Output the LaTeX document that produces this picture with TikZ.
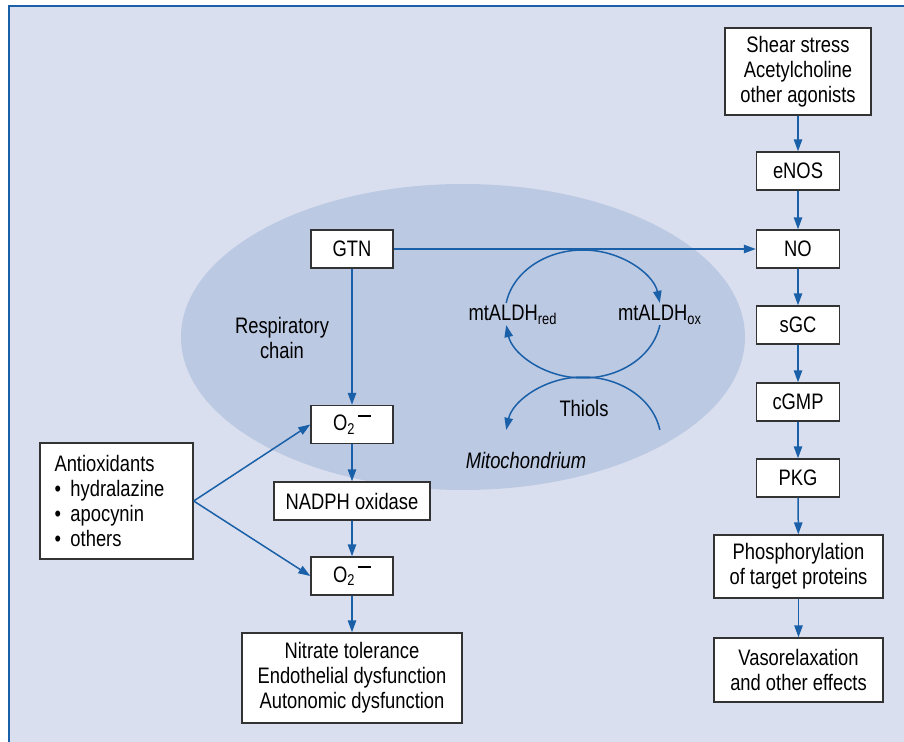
\documentclass[tikz,border=0pt]{standalone}
\usepackage{fontspec}
\setmainfont[FakeStretch=0.82]{Liberation Sans}
\usetikzlibrary{arrows.meta}
\definecolor{bgfill}{HTML}{D9DFEE}
\definecolor{mitofill}{HTML}{BCC9E3}
\definecolor{lineblue}{HTML}{1A60A8}
\definecolor{boxgray}{HTML}{333333}
\newcommand\supox{O\textsubscript{2}\kern0.1em\raisebox{0.63em}{\rule{0.58em}{0.1em}}}
\begin{document}
\begin{tikzpicture}[x=0.5pt,y=-0.5pt,
  font=\fontsize{11.2}{12.5}\selectfont,
  box/.style={draw=boxgray, fill=white, line width=0.7pt, inner sep=0pt, align=center},
  arr/.style={draw=lineblue, line width=0.75pt, -{Triangle[length=6pt,width=4.2pt]}},
  plain/.style={draw=lineblue, line width=0.75pt}]
\useasboundingbox (0,0) rectangle (904,742);
% background and frame
\fill[bgfill] (9,6) rectangle (904,742);
\draw[lineblue, line width=1pt] (9,742) -- (9,6) -- (904,6);
% mitochondrium
\fill[mitofill] (463,337) ellipse [x radius=282, y radius=153];

% right column
\node[box, minimum width=73pt, minimum height=43.5pt] (shear) at (798,71.5) {Shear stress\\Acetylcholine\\other agonists};
\node[box, minimum width=41.5pt, minimum height=19pt] (enos) at (798,171) {eNOS};
\node[box, minimum width=41.5pt, minimum height=19pt] (no) at (798,249) {NO};
\node[box, minimum width=41.5pt, minimum height=19pt] (sgc) at (798,325) {sGC};
\node[box, minimum width=41.5pt, minimum height=19pt] (cgmp) at (798,402) {cGMP};
\node[box, minimum width=41.5pt, minimum height=19pt] (pkg) at (798,478) {PKG};
\node[box, minimum width=84.5pt, minimum height=31.5pt] (phos) at (798.5,566.5) {Phosphorylation\\of target proteins};
\node[box, minimum width=84.5pt, minimum height=32pt] (vaso) at (798.5,670) {Vasorelaxation\\and other effects};

% left column
\node[box, minimum width=41pt, minimum height=19pt] (gtn) at (352,249) {GTN};
\node[box, minimum width=41pt, minimum height=19pt] (oxa) at (352,424.5) {\supox};
\node[box, minimum width=78pt, minimum height=19pt] (nadph) at (352,501) {NADPH oxidase};
\node[box, minimum width=41pt, minimum height=19pt] (oxb) at (352,576) {\supox};
\node[box, minimum width=110pt, minimum height=45pt] (nitr) at (352,678) {Nitrate tolerance\\Endothelial dysfunction\\Autonomic dysfunction};
\node[box, minimum width=76.5pt, minimum height=58pt, align=left] (anti) at (116.5,501)
  {\parbox{62pt}{Antioxidants\\\hbox to 8pt{\textbullet\hss}hydralazine\\\hbox to 8pt{\textbullet\hss}apocynin\\\hbox to 8pt{\textbullet\hss}others}};

% labels
\node[align=center, inner sep=0pt] (resp) at (282,338) {Respiratory\\chain};
\node[inner sep=0pt] (red) at (513,315) {mtALDH\textsubscript{red}};
\node[inner sep=0pt] (ox) at (660,315) {mtALDH\textsubscript{ox}};
\node[inner sep=0pt] (thiols) at (584,408) {Thiols};
\node[inner sep=0pt, font=\fontsize{11.2}{12.5}\selectfont\itshape] (mito) at (526,461) {Mitochondrium};

% right column arrows
\draw[arr] (shear) -- (enos);
\draw[arr] (enos) -- (no);
\draw[arr] (no) -- (sgc);
\draw[arr] (sgc) -- (cgmp);
\draw[arr] (cgmp) -- (pkg);
\draw[arr] (pkg) -- (phos);
\draw[arr] (phos) -- (vaso);

% left column arrows
\draw[arr] (gtn) -- (no);
\draw[arr] (gtn) -- (oxa);
\draw[arr] (oxa) -- (nadph);
\draw[arr] (nadph) -- (oxb);
\draw[arr] (oxb) -- (nitr);
\coordinate (split) at (anti.east);
\draw[arr] (split) -- (oxa.west);
\draw[arr] (split) -- (oxb.west);

% redox cycle
\coordinate (cyc) at (583,314);
\coordinate (thc) at (583,441);
\draw[arr] ([shift={(-170:78 and 64)}]cyc) arc[start angle=-170, end angle=-10, x radius=78, y radius=64];
\draw[arr] ([shift={(10:78 and 64)}]cyc) arc[start angle=10, end angle=170, x radius=78, y radius=64];
\draw[arr] ([shift={(-10:78 and 64)}]thc) arc[start angle=-10, end angle=-170, x radius=78, y radius=64];
\end{tikzpicture}
\end{document}
